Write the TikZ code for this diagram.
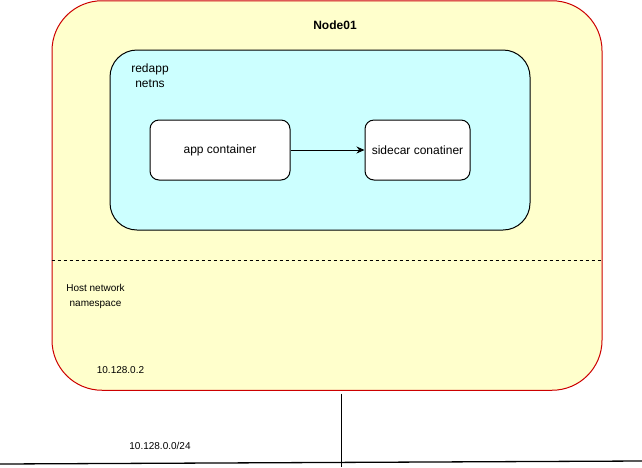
\documentclass[tikz,border=0pt]{standalone}
\usepackage{fontspec}
\setmainfont{Liberation Sans}
\usetikzlibrary{arrows.meta}
\definecolor{hostfill}{RGB}{255,255,204}
\definecolor{hostdraw}{RGB}{204,0,0}
\definecolor{nsfill}{RGB}{204,255,255}
\begin{document}
\begin{tikzpicture}[x=1pt,y=-1pt,
  box/.style={draw=black,line width=1pt,fill=white,rounded corners=9pt,inner sep=0pt,
    font=\fontsize{12}{14}\selectfont},
  lbl/.style={inner sep=0pt,align=center},
  smalllbl/.style={lbl,font=\fontsize{10}{15}\selectfont},
  conn/.style={line width=1pt,-{Stealth[length=8pt,width=7pt]}},
  wire/.style={line width=1pt,draw=black}
]
\useasboundingbox (0,0) rectangle (642,467);
\node[draw=hostdraw,fill=hostfill,line width=1pt,rounded corners=50pt,
  minimum width=550pt,minimum height=389.5pt,inner sep=0pt] (host) at (327,195.5) {};
\node[draw=black,fill=nsfill,line width=1pt,rounded corners=27pt,
  minimum width=420pt,minimum height=180pt,inner sep=0pt] (ns) at (320,140) {};
\node[box,minimum width=140pt,minimum height=60pt] (app) at (220,150) {app container};
\node[box,minimum width=105pt,minimum height=60pt] (side) at (417.5,150) {sidecar conatiner};
\draw[conn] (app) -- (side);
\node[lbl,font=\bfseries\fontsize{12}{14}\selectfont] (title) at (335,25) {Node01};
\node[lbl,font=\fontsize{12}{14.6}\selectfont] (nslbl) at (150,75.5) {redapp\\netns};
\coordinate (dl) at (host.west |- 0,260.5);
\coordinate (dr) at (host.east |- 0,260.5);
\draw[line width=1pt,dash pattern=on 3pt off 3pt] (dl) -- (dr);
\node[smalllbl] (hostlbl) at (95.5,296.5) {Host network\\namespace};
\node[smalllbl] (ip) at (120.5,370.5) {10.128.0.2};
\node[smalllbl] (subnet) at (160,445.5) {10.128.0.0/24};
\coordinate (vt) at (341,393.5);
\coordinate (vb) at (341,467);
\draw[wire] (vt) -- (vb);
\coordinate (bl) at (0,464);
\coordinate (br) at (642,461);
\draw[wire,line width=1.3pt] (bl) -- (br);
\end{tikzpicture}
\end{document}
